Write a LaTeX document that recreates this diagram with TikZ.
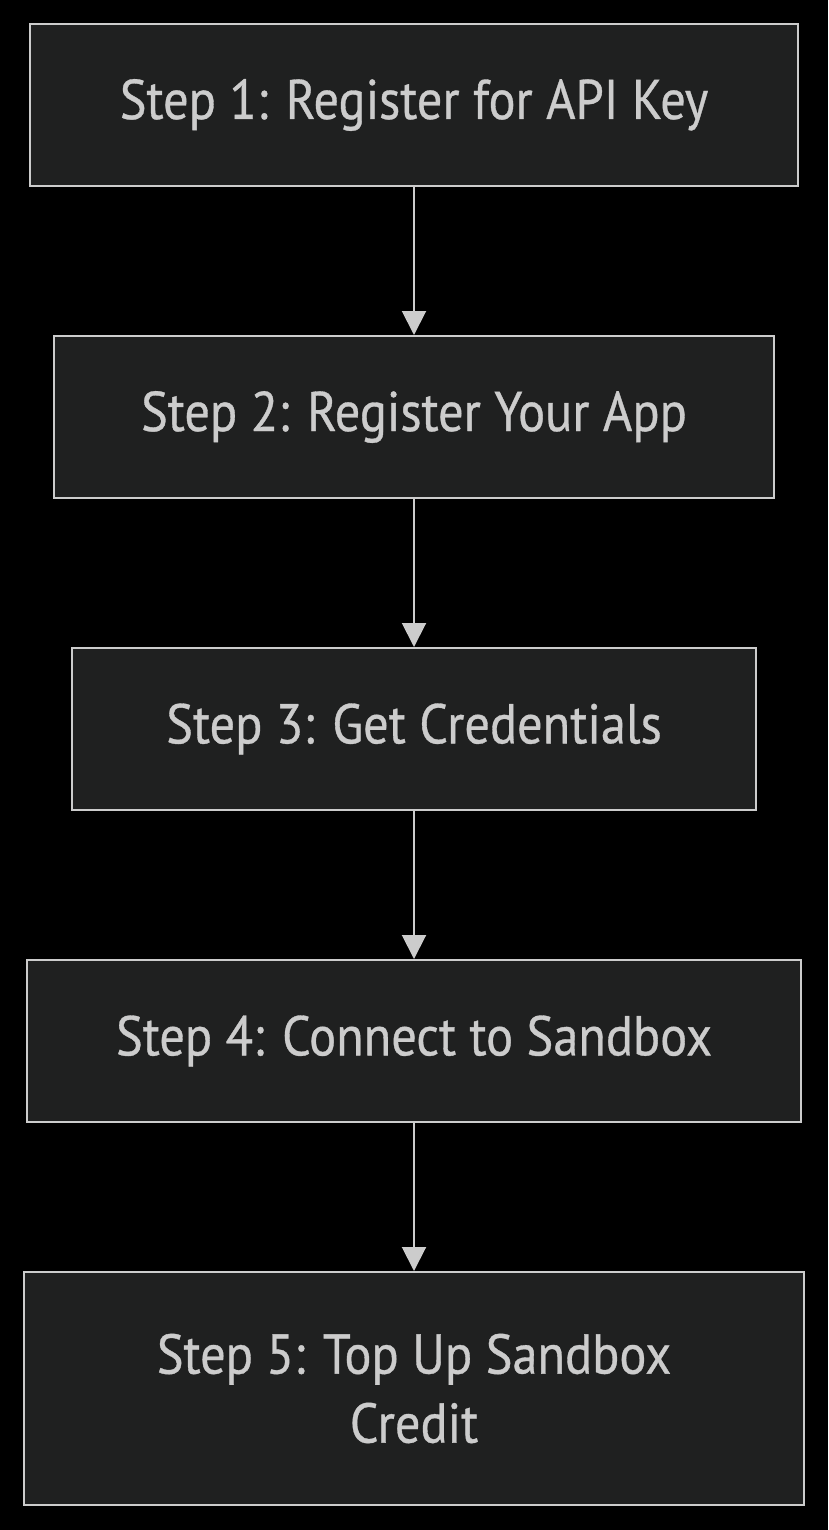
\documentclass[tikz,border=0pt]{standalone}
\usepackage{fontspec}
\setmainfont[FakeStretch=0.9,FakeBold=0.6]{PT Sans}
\usetikzlibrary{arrows.meta}
\definecolor{boxfill}{HTML}{1F2020}
\definecolor{boxline}{HTML}{CCCCCC}

\begin{document}
\begin{tikzpicture}[x=1pt,y=-1pt,
  stepbox/.style={draw=boxline,fill=boxfill,line width=2pt,text=boxline,
    minimum height=162pt,inner sep=0pt,align=center,
    font=\fontsize{56}{69}\selectfont},
  flow/.style={draw=boxline,line width=2pt,-{Triangle[length=24pt,width=24pt]}}]
  \fill[black] (0,0) rectangle (828,1530);
  \useasboundingbox (0,0) rectangle (828,1530);
  \node[stepbox,minimum width=768pt] (s1) at (414,105) {Step 1: Register for API Key};
  \node[stepbox,minimum width=720pt] (s2) at (414,417) {Step 2: Register Your App};
  \node[stepbox,minimum width=684pt] (s3) at (414,729) {Step 3: Get Credentials};
  \node[stepbox,minimum width=774pt] (s4) at (414,1041) {Step 4: Connect to Sandbox};
  \node[stepbox,minimum width=780pt,minimum height=233pt] (s5) at (414,1388.5) {Step 5: Top Up Sandbox\\Credit};
  \draw[flow] (s1) -- (s2);
  \draw[flow] (s2) -- (s3);
  \draw[flow] (s3) -- (s4);
  \draw[flow] (s4) -- (s5);
\end{tikzpicture}
\end{document}
